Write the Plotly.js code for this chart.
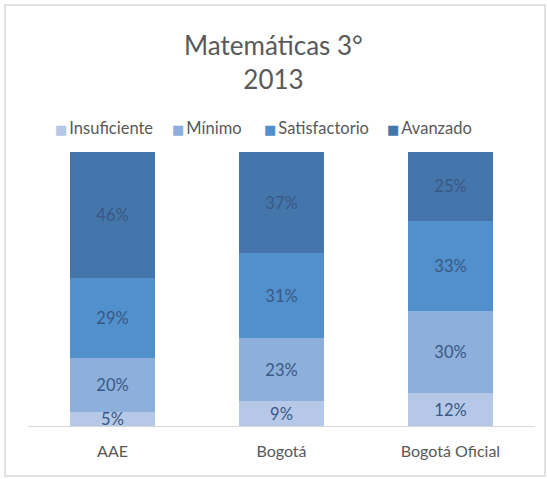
<!DOCTYPE html>
<html>
<head>
<meta charset="utf-8">
<script src="https://cdn.plot.ly/plotly-3.0.1.min.js"></script>
<style>html,body{margin:0;padding:0;background:#fff;}#chart{width:547px;height:479px;}</style>
</head>
<body>
<div id="chart"></div>
<script>
const categories = ["AAE", "Bogotá", "Bogotá Oficial"];
const seriesNames = ["Insuficiente", "Mínimo", "Satisfactorio", "Avanzado"];
const insuficiente = [5, 9, 12];
const minimo = [20, 23, 30];
const satisfactorio = [29, 31, 33];
const avanzado = [46, 37, 25];
const seriesValues = [insuficiente, minimo, satisfactorio, avanzado];
const colors = ["#b5c8e8", "#8cafdc", "#5190cc", "#4576ab"];

const font = "Lato, 'Open Sans', sans-serif";
const traces = seriesValues.map((vals, i) => ({
  type: "bar",
  name: seriesNames[i],
  x: categories,
  y: vals,
  marker: {color: colors[i], line: {width: 0}},
  texttemplate: "%{y}%",
  textposition: "inside",
  insidetextanchor: "middle",
  constraintext: "none",
  textangle: 0,
  textfont: {family: font, size: 16.5, color: "#3a5883"},
  hoverinfo: "skip",
  showlegend: false
}));

// custom legend (small squares close to text, as in the reference)
const legendX = [53, 170, 262, 385]; // pixel left edges
const legendAnn = seriesNames.map((n, i) => ({
  xref: "paper", yref: "paper",
  x: (legendX[i] - 28) / 507, xanchor: "left",
  y: (426 - 128) / 274, yanchor: "middle",
  showarrow: false,
  text: "<span style='color:" + colors[i] + ";font-family:DejaVu Sans;font-size:13px'>■</span>&#8201;" + n,
  font: {family: font, size: 16.5, color: "#595959"}
}));

const layout = {
  width: 547, height: 479,
  margin: {l: 28, r: 12, t: 152, b: 53},
  barmode: "stack",
  bargap: 0.5,
  paper_bgcolor: "#fff",
  plot_bgcolor: "#fff",
  font: {family: font, color: "#595959"},
  title: {
    text: "Matemáticas 3°<br>2013",
    font: {family: font, size: 26, color: "#595959"},
    x: 0.5, xanchor: "center",
    y: 1 - 55/479, yanchor: "middle", yref: "container"
  },
  showlegend: false,
  annotations: legendAnn,
  xaxis: {
    type: "category",
    showline: true, linecolor: "#d9d9d9", linewidth: 1,
    ticks: "", showgrid: false,
    ticklabelstandoff: 11,
    tickfont: {family: font, size: 16, color: "#595959"},
    fixedrange: true
  },
  yaxis: {
    range: [0, 100],
    visible: false,
    showgrid: false, zeroline: false,
    fixedrange: true
  },
  shapes: [{
    type: "rect", xref: "paper", yref: "paper",
    x0: (5 - 28) / 507, x1: (545 - 28) / 507,
    y0: (426 - 476) / 274, y1: (426 - 5) / 274,
    line: {color: "#d9d9d9", width: 1.5},
    fillcolor: "rgba(0,0,0,0)",
    layer: "below"
  }]
};

Plotly.newPlot("chart", traces, layout, {displayModeBar: false, staticPlot: true});
</script>
</body>
</html>
